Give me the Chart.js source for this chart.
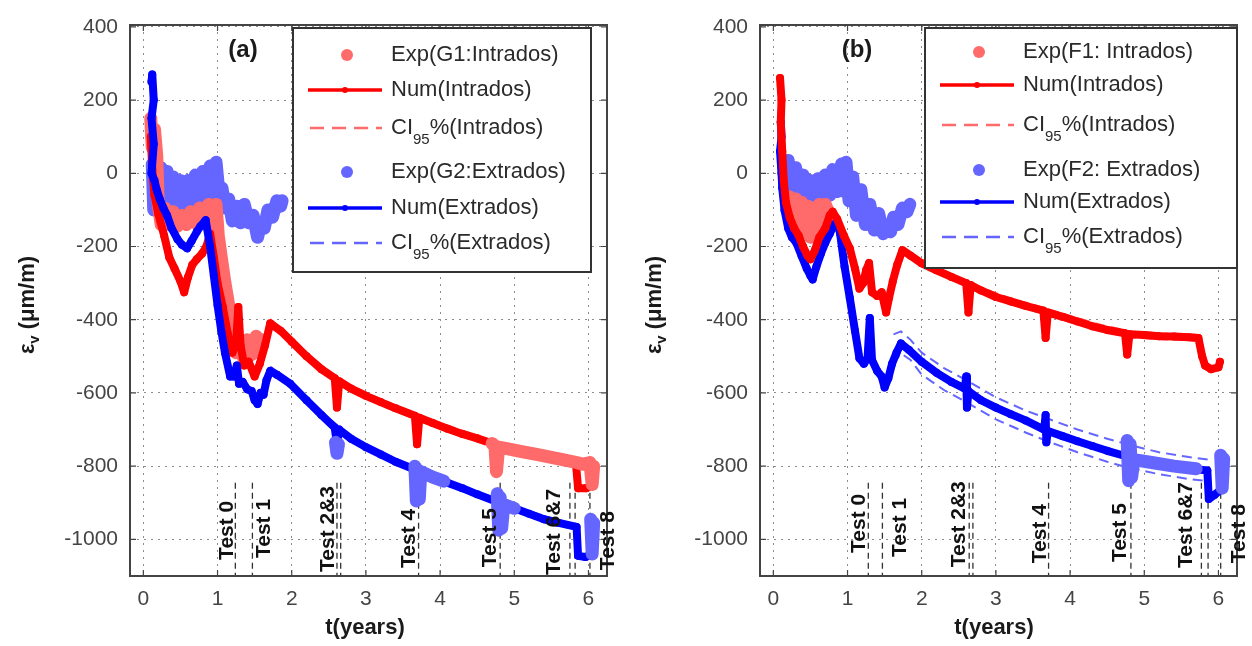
<!DOCTYPE html>
<html>
<head>
<meta charset="utf-8">
<script src="https://cdn.jsdelivr.net/npm/chart.js@4.4.1/dist/chart.umd.min.js"></script>
<style>
html, body { margin: 0; padding: 0; background: #fff; }
#wrap { position: relative; width: 1252px; height: 646px; }
canvas { position: absolute; top: 0; }
#chartA { left: 0; }
#chartB { left: 626px; }
</style>
</head>
<body>
<div id="wrap">
<canvas id="chartA" width="626" height="646"></canvas>
<canvas id="chartB" width="626" height="646"></canvas>
</div>
<script>
// ---- data: [t (years), strain (um/m)] ----

// panel (a)
const expIntA1 = [[0.10,150],[0.12,70],[0.15,120],[0.18,50],[0.20,-80],[0.24,-140],[0.29,-95],[0.34,-140],[0.40,-105],[0.46,-145],[0.52,-115],[0.58,-140],[0.64,-105],[0.70,-135],[0.76,-95],[0.82,-130],[0.88,-85],[0.93,-155],[0.98,-85],[1.01,-170],[1.05,-230],[1.10,-300],[1.15,-360],[1.20,-420],[1.25,-490],[1.30,-460],[1.35,-505],[1.40,-455],[1.46,-495],[1.52,-445],[1.56,-490],[1.60,-455]];
const expIntA2 = [[4.70,-738],[4.74,-745],[4.76,-815],[4.79,-748],[4.90,-752],[5.10,-760],[5.30,-768],[5.50,-776],[5.70,-784],[5.84,-790],[5.92,-795],[6.02,-790],[6.05,-850],[6.07,-800]];
const numIntA = [[0.10,100],[0.12,10],[0.15,-60],[0.20,-110],[0.28,-170],[0.35,-230],[0.42,-260],[0.50,-295],[0.55,-325],[0.60,-285],[0.66,-250],[0.72,-235],[0.79,-220],[0.85,-200],[0.90,-165],[0.95,-230],[1.00,-300],[1.07,-365],[1.14,-440],[1.20,-490],[1.25,-465],[1.28,-365],[1.31,-470],[1.36,-525],[1.42,-515],[1.50,-555],[1.57,-520],[1.64,-470],[1.71,-410],[1.85,-430],[2.00,-460],[2.20,-500],[2.40,-535],[2.58,-560],[2.61,-640],[2.64,-568],[2.80,-588],[3.00,-608],[3.20,-625],[3.40,-642],[3.66,-662],[3.69,-740],[3.72,-668],[3.90,-682],[4.10,-698],[4.30,-712],[4.50,-724],[4.74,-740],[5.00,-755],[5.20,-765],[5.40,-775],[5.60,-782],[5.83,-790],[5.86,-860],[5.97,-860],[6.02,-855]];
const ciIntHiA = [[1.71,-398],[2.0,-452],[2.4,-527],[2.8,-580],[3.2,-617],[3.6,-650],[4.0,-682],[4.4,-710],[4.8,-738],[5.2,-757],[5.6,-774],[5.85,-782]];
const ciIntLoA = [[1.71,-412],[2.0,-468],[2.4,-543],[2.8,-596],[3.2,-633],[3.6,-666],[4.0,-698],[4.4,-726],[4.8,-754],[5.2,-773],[5.6,-790],[5.85,-798]];
const expExtA1 = [[0.12,25],[0.14,-100],[0.17,20],[0.20,-95],[0.24,15],[0.28,-90],[0.32,5],[0.36,-90],[0.40,-10],[0.45,-90],[0.50,-20],[0.55,-90],[0.60,-20],[0.65,-80],[0.70,-5],[0.75,-65],[0.80,5],[0.86,-60],[0.90,20],[0.95,-55],[0.98,30],[1.02,-55],[1.06,-40],[1.10,-95],[1.15,-70],[1.20,-130],[1.26,-90],[1.31,-135],[1.36,-85],[1.42,-135],[1.48,-115],[1.54,-175],[1.58,-140],[1.63,-150],[1.68,-100],[1.74,-120],[1.80,-75],[1.85,-90],[1.87,-75]];
const expExtA2 = [[2.59,-735],[2.61,-765],[2.63,-740]];
const expExtA3 = [[3.66,-800],[3.68,-895],[3.70,-810],[3.72,-890],[3.74,-815],[3.90,-830],[4.05,-841]];
const expExtA4 = [[4.77,-875],[4.79,-975],[4.81,-885],[4.83,-970],[4.86,-905],[5.00,-915]];
const expExtA5 = [[6.03,-945],[6.05,-1040],[6.07,-955]];
const numExtA = [[0.11,250],[0.12,270],[0.14,200],[0.11,150],[0.14,80],[0.11,0],[0.15,-20],[0.18,-45],[0.22,-70],[0.27,-95],[0.32,-115],[0.38,-150],[0.46,-180],[0.52,-195],[0.59,-205],[0.65,-185],[0.72,-160],[0.77,-145],[0.84,-128],[0.90,-200],[0.95,-280],[1.00,-360],[1.05,-430],[1.10,-490],[1.17,-555],[1.22,-555],[1.26,-525],[1.29,-575],[1.34,-570],[1.40,-590],[1.46,-595],[1.50,-620],[1.54,-630],[1.58,-600],[1.62,-605],[1.66,-565],[1.71,-540],[1.80,-550],[1.98,-575],[2.20,-620],[2.40,-660],[2.58,-695],[2.61,-740],[2.64,-700],[2.80,-725],[3.00,-748],[3.20,-768],[3.40,-788],[3.69,-812],[3.90,-830],[4.10,-845],[4.30,-860],[4.50,-877],[4.80,-900],[5.00,-915],[5.20,-930],[5.40,-945],[5.60,-955],[5.84,-966],[5.86,-1045],[5.96,-1048],[6.03,-1042]];
const ciExtHiA = [[1.71,-528],[2.0,-570],[2.4,-653],[2.8,-718],[3.2,-761],[3.6,-797],[4.0,-831],[4.4,-862],[4.8,-893],[5.2,-923],[5.6,-948],[5.85,-960]];
const ciExtLoA = [[1.71,-542],[2.0,-584],[2.4,-667],[2.8,-732],[3.2,-775],[3.6,-811],[4.0,-845],[4.4,-876],[4.8,-907],[5.2,-937],[5.6,-962],[5.85,-974]];

// panel (b)
const expIntB1 = [[0.22,-65],[0.26,-115],[0.30,-70],[0.34,-140],[0.38,-80],[0.42,-160],[0.46,-90],[0.50,-175],[0.54,-95],[0.58,-150],[0.62,-85],[0.66,-130],[0.70,-85],[0.74,-105]];
const numIntB = [[0.09,260],[0.11,200],[0.10,140],[0.12,60],[0.14,-20],[0.17,-80],[0.22,-120],[0.28,-150],[0.34,-170],[0.40,-200],[0.46,-225],[0.50,-235],[0.56,-210],[0.62,-175],[0.70,-150],[0.76,-115],[0.80,-105],[0.86,-125],[0.95,-170],[1.03,-205],[1.10,-260],[1.16,-315],[1.21,-300],[1.25,-265],[1.29,-245],[1.33,-325],[1.40,-335],[1.46,-325],[1.52,-380],[1.56,-340],[1.61,-295],[1.67,-250],[1.74,-210],[1.85,-225],[2.00,-246],[2.20,-265],[2.40,-283],[2.60,-300],[2.63,-380],[2.66,-305],[2.80,-320],[3.00,-338],[3.20,-350],[3.40,-362],[3.64,-375],[3.67,-450],[3.70,-380],[3.90,-392],[4.10,-405],[4.30,-418],[4.50,-428],[4.74,-437],[4.77,-495],[4.80,-440],[5.00,-442],[5.20,-445],[5.40,-446],[5.60,-448],[5.73,-450],[5.78,-500],[5.82,-525],[5.90,-535],[6.00,-530],[6.02,-515]];
const ciIntHiB = [[1.74,-203],[2.0,-238],[2.4,-275],[2.8,-312],[3.2,-342],[3.6,-365],[4.0,-390],[4.4,-413],[4.8,-432],[5.2,-437],[5.6,-440],[5.73,-442]];
const ciIntLoB = [[1.74,-217],[2.0,-254],[2.4,-291],[2.8,-328],[3.2,-358],[3.6,-381],[4.0,-406],[4.4,-429],[4.8,-448],[5.2,-453],[5.6,-456],[5.73,-458]];
const expExtB1 = [[0.14,25],[0.16,-40],[0.20,35],[0.25,-60],[0.30,15],[0.35,-70],[0.40,-5],[0.45,-75],[0.50,-20],[0.55,-75],[0.60,-15],[0.65,-65],[0.70,-5],[0.76,-60],[0.80,10],[0.86,-50],[0.92,25],[0.96,-50],[0.98,30],[1.02,-75],[1.07,-10],[1.12,-115],[1.18,-45],[1.24,-140],[1.30,-85],[1.36,-155],[1.42,-110],[1.48,-165],[1.52,-155],[1.58,-160],[1.62,-120],[1.68,-140],[1.74,-95],[1.80,-105],[1.84,-85]];
const expExtB2 = [[4.77,-730],[4.79,-840],[4.81,-740],[4.83,-830],[4.86,-782],[5.10,-790],[5.40,-800],[5.70,-807]];
const expExtB3 = [[6.03,-770],[6.05,-860],[6.07,-780]];
const numExtB = [[0.10,140],[0.11,100],[0.09,60],[0.11,0],[0.12,-40],[0.15,-100],[0.20,-150],[0.25,-175],[0.31,-190],[0.38,-225],[0.45,-260],[0.50,-280],[0.53,-290],[0.58,-255],[0.64,-220],[0.70,-190],[0.76,-165],[0.82,-140],[0.86,-130],[0.90,-165],[0.96,-255],[1.03,-340],[1.10,-430],[1.16,-505],[1.22,-520],[1.27,-505],[1.30,-395],[1.33,-510],[1.40,-540],[1.46,-555],[1.50,-585],[1.55,-560],[1.60,-520],[1.66,-490],[1.72,-465],[1.83,-483],[2.00,-515],[2.20,-545],[2.40,-570],[2.58,-588],[2.60,-555],[2.61,-640],[2.63,-595],[2.80,-620],[3.00,-640],[3.20,-658],[3.40,-675],[3.65,-700],[3.67,-660],[3.68,-735],[3.70,-704],[3.90,-718],[4.10,-732],[4.30,-745],[4.50,-758],[4.79,-775],[5.00,-785],[5.20,-793],[5.40,-800],[5.60,-806],[5.85,-812],[5.87,-890],[5.95,-878],[6.03,-865]];
const ciExtHiB = [[1.62,-440],[1.72,-432],[1.85,-455],[2.0,-490],[2.3,-532],[2.6,-565],[3.0,-612],[3.4,-648],[3.67,-668],[4.1,-700],[4.5,-725],[4.8,-742],[5.2,-762],[5.6,-775],[5.9,-783]];
const ciExtLoB = [[1.62,-520],[1.72,-492],[1.85,-510],[2.0,-550],[2.3,-592],[2.6,-625],[3.0,-672],[3.4,-708],[3.67,-730],[4.1,-762],[4.5,-788],[4.8,-805],[5.2,-822],[5.6,-835],[5.9,-842]];

// test markers
const testLabels = ['Test 0', 'Test 1', 'Test 2&3', 'Test 4', 'Test 5', 'Test 6&7', 'Test 8'];
const testLabelTA = [1.21, 1.71, 2.57, 3.66, 4.75, 5.62, 6.35];
const testLabelVA = [-1056, -1051, -1089, -1078, -1076, -1097, -1084];
const testLineTA = [1.24, 1.47, 2.61, 2.66, 3.71, 4.81, 5.75, 5.82, 6.02];
const testLabelTB = [1.23, 1.79, 2.59, 3.68, 4.76, 5.65, 6.36];
const testLabelVB = [-1037, -1048, -1076, -1065, -1062, -1078, -1065];
const testLineTB = [1.28, 1.47, 2.64, 2.69, 3.71, 4.82, 5.77, 5.86, 6.03];
const testLineRange = [-845, -1100];

const legendA = ['Exp(G1:Intrados)', 'Num(Intrados)', 'CI95%(Intrados)', 'Exp(G2:Extrados)', 'Num(Extrados)', 'CI95%(Extrados)'];
const legendB = ['Exp(F1: Intrados)', 'Num(Intrados)', 'CI95%(Intrados)', 'Exp(F2: Extrados)', 'Num(Extrados)', 'CI95%(Extrados)'];

const RED = '#ff0000', LRED = '#ff6a6a', BLUE = '#0000ff', LBLUE = '#6565ff';
const FONT = '"Liberation Sans", Arial, Helvetica, sans-serif';
Chart.defaults.font.family = FONT;

const pts = arr => arr.map(p => ({ x: p[0], y: p[1] }));

function expSet(arr, color) {
  return { data: pts(arr), borderColor: color, backgroundColor: color, borderWidth: 13,
    pointRadius: 5.5, pointBorderWidth: 0, borderJoinStyle: 'round', borderCapStyle: 'round' };
}
function numSet(arr, color) {
  return { data: pts(arr), borderColor: color, backgroundColor: color, borderWidth: 8,
    pointRadius: 4, pointBorderWidth: 0, borderJoinStyle: 'round', borderCapStyle: 'round' };
}
function ciSet(arr, color) {
  return { data: pts(arr), borderColor: color, borderWidth: 2, borderDash: [10, 6], pointRadius: 0 };
}
function testSets(ts) {
  return ts.map(t => ({ data: [{ x: t, y: testLineRange[0] }, { x: t, y: testLineRange[1] }],
    borderColor: '#333', borderWidth: 1.3, borderDash: [6, 4], pointRadius: 0 }));
}

function decor(cfg) {
  return {
    id: 'decor',
    afterDraw(chart) {
      const ctx = chart.ctx, a = chart.chartArea;
      const xs = chart.scales.x, ys = chart.scales.y;
      ctx.save();
      // box and inward ticks
      ctx.strokeStyle = '#444';
      ctx.lineWidth = 2;
      ctx.strokeRect(a.left, a.top, a.right - a.left, a.bottom - a.top);
      ctx.lineWidth = 1.2;
      ctx.beginPath();
      xs.ticks.forEach(t => {
        const px = xs.getPixelForValue(t.value);
        ctx.moveTo(px, a.bottom); ctx.lineTo(px, a.bottom - 6);
        ctx.moveTo(px, a.top); ctx.lineTo(px, a.top + 6);
      });
      ys.ticks.forEach(t => {
        const py = ys.getPixelForValue(t.value);
        ctx.moveTo(a.left, py); ctx.lineTo(a.left + 6, py);
        ctx.moveTo(a.right, py); ctx.lineTo(a.right - 6, py);
      });
      ctx.stroke();

      // test labels
      ctx.fillStyle = '#111';
      ctx.font = 'bold 21px ' + FONT;
      ctx.textAlign = 'left';
      ctx.textBaseline = 'alphabetic';
      cfg.testT.forEach((t, i) => {
        ctx.save();
        ctx.translate(xs.getPixelForValue(t), ys.getPixelForValue(cfg.testV[i]));
        ctx.rotate(-Math.PI / 2);
        ctx.fillText(testLabels[i], 0, 0);
        ctx.restore();
      });

      // panel tag
      ctx.fillStyle = '#1a1a1a';
      ctx.font = 'bold 24px ' + FONT;
      ctx.textAlign = 'center';
      ctx.textBaseline = 'middle';
      ctx.fillText(cfg.tag, cfg.tagX, 50);

      // legend
      const b = cfg.box;
      ctx.fillStyle = '#fff';
      ctx.fillRect(b.x, b.y, b.w, b.h);
      ctx.strokeStyle = '#333';
      ctx.lineWidth = 2;
      ctx.strokeRect(b.x, b.y, b.w, b.h);
      const kinds = ['dot', 'line', 'dash', 'dot', 'line', 'dash'];
      const cols = [LRED, RED, LRED, LBLUE, BLUE, LBLUE];
      cfg.labels.forEach((lab, i) => {
        const y = b.y + cfg.rows[i];
        const c = cols[i];
        ctx.strokeStyle = c; ctx.fillStyle = c;
        if (kinds[i] === 'dot') {
          ctx.beginPath(); ctx.arc(b.x + 54, y, 6, 0, Math.PI * 2); ctx.fill();
        } else if (kinds[i] === 'line') {
          ctx.lineWidth = 3.5; ctx.setLineDash([]);
          ctx.beginPath(); ctx.moveTo(b.x + 15, y); ctx.lineTo(b.x + 89, y); ctx.stroke();
          ctx.beginPath(); ctx.arc(b.x + 52, y, 3, 0, Math.PI * 2); ctx.fill();
        } else {
          ctx.lineWidth = 2.5; ctx.setLineDash([14, 8]);
          ctx.beginPath(); ctx.moveTo(b.x + 17, y); ctx.lineTo(b.x + 89, y); ctx.stroke();
          ctx.setLineDash([]);
        }
        ctx.fillStyle = '#2a2a2a';
        ctx.textAlign = 'left';
        ctx.textBaseline = 'middle';
        let x = b.x + 98;
        if (lab.startsWith('CI95')) {
          ctx.font = '22px ' + FONT;
          ctx.fillText('CI', x, y); x += ctx.measureText('CI').width;
          ctx.font = '15px ' + FONT;
          ctx.fillText('95', x, y + 12); x += ctx.measureText('95').width;
          ctx.font = '22px ' + FONT;
          ctx.fillText(lab.slice(4), x, y);
        } else {
          ctx.font = '22px ' + FONT;
          ctx.fillText(lab, x, y);
        }
      });

      // axis titles
      ctx.fillStyle = '#1a1a1a';
      ctx.font = 'bold 22px ' + FONT;
      ctx.textAlign = 'center';
      ctx.textBaseline = 'middle';
      ctx.fillText('t(years)', cfg.xTitleX, 628);

      ctx.save();
      ctx.translate(cfg.yTitleX, 305);
      ctx.rotate(-Math.PI / 2);
      ctx.textAlign = 'left';
      const big = 'bold 22px ' + FONT, small = 'bold 15px ' + FONT;
      ctx.font = big; const w1 = ctx.measureText('\u03b5').width, w3 = ctx.measureText(' (\u03bcm/m)').width;
      ctx.font = small; const w2 = ctx.measureText('v').width;
      let x0 = -(w1 + w2 + w3) / 2;
      ctx.font = big; ctx.fillText('\u03b5', x0, 0);
      ctx.font = small; ctx.fillText('v', x0 + w1, 7);
      ctx.font = big; ctx.fillText(' (\u03bcm/m)', x0 + w1 + w2, 0);
      ctx.restore();

      ctx.restore();
    }
  };
}

function makeChart(id, datasets, yWidth, padRight, cfg) {
  new Chart(document.getElementById(id), {
    type: 'line',
    data: { datasets: datasets },
    options: {
      responsive: false,
      animation: false,
      devicePixelRatio: 1,
      events: [],
      layout: { padding: { left: 0, top: 25, right: padRight, bottom: 0 } },
      plugins: { legend: { display: false }, tooltip: { enabled: false } },
      elements: { line: { tension: 0 } },
      scales: {
        x: {
          type: 'linear', min: -0.18, max: 6.25,
          afterFit: s => { s.height = 70; },
          ticks: { stepSize: 1, includeBounds: false, padding: 11, color: '#444', font: { size: 21 }, maxRotation: 0, autoSkip: false,
            callback: v => String(v) },
          grid: { color: '#8c8c8c', lineWidth: 1, drawTicks: false },
          border: { display: false, dash: [2, 5] }
        },
        y: {
          type: 'linear', min: -1100, max: 405,
          afterFit: s => { s.width = yWidth; },
          ticks: { stepSize: 200, includeBounds: false, padding: 12, color: '#444', font: { size: 21 },
            callback: v => String(v) },
          grid: { color: '#8c8c8c', lineWidth: 1, drawTicks: false },
          border: { display: false, dash: [2, 5] }
        }
      }
    },
    plugins: [decor(cfg)]
  });
}

// first dataset is painted on top
makeChart('chartA', [
  expSet(expIntA2, LRED),
  expSet(expExtA2, LBLUE), expSet(expExtA3, LBLUE), expSet(expExtA4, LBLUE), expSet(expExtA5, LBLUE),
  numSet(numExtA, BLUE),
  numSet(numIntA, RED),
  ciSet(ciExtHiA, LBLUE), ciSet(ciExtLoA, LBLUE),
  ciSet(ciIntHiA, LRED), ciSet(ciIntLoA, LRED),
  expSet(expIntA1, LRED),
  expSet(expExtA1, LBLUE),
  ...testSets(testLineTA)
], 130, 19, {
  tag: '(a)', tagX: 243, labels: legendA,
  box: { x: 293, y: 28, w: 298, h: 244 }, rows: [27, 62, 100, 144, 180, 215],
  testT: testLabelTA, testV: testLabelVA, xTitleX: 365, yTitleX: 28
});

makeChart('chartB', [
  expSet(expExtB2, LBLUE), expSet(expExtB3, LBLUE),
  numSet(numIntB, RED),
  numSet(numExtB, BLUE),
  ciSet(ciExtHiB, LBLUE), ciSet(ciExtLoB, LBLUE),
  ciSet(ciIntHiB, LRED), ciSet(ciIntLoB, LRED),
  expSet(expIntB1, LRED),
  expSet(expExtB1, LBLUE),
  ...testSets(testLineTB)
], 134, 15, {
  tag: '(b)', tagX: 231, labels: legendB,
  box: { x: 299, y: 28, w: 312, h: 240 }, rows: [24, 57, 97, 142, 174, 209],
  testT: testLabelTB, testV: testLabelVB, xTitleX: 368, yTitleX: 29
});
</script>
</body>
</html>
